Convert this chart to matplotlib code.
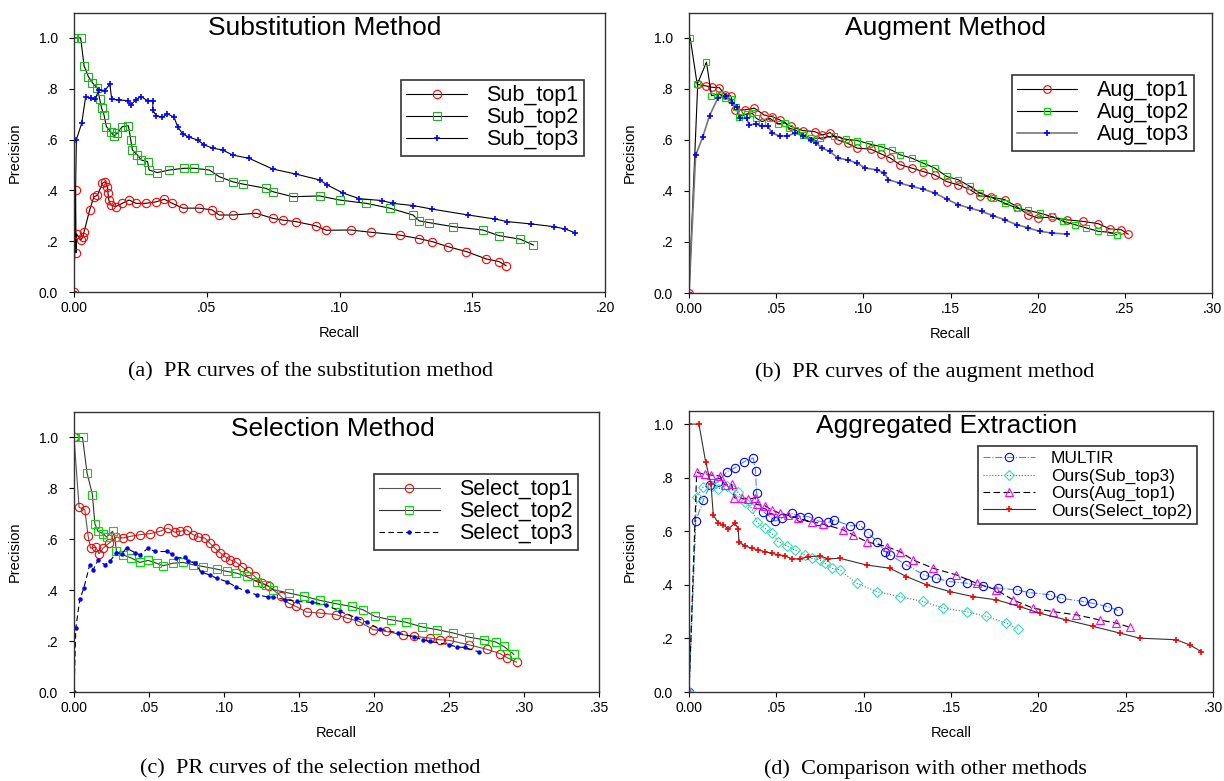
import matplotlib
matplotlib.use('Agg')
import matplotlib.pyplot as plt

plt.rcParams['font.family'] = ['Liberation Sans', 'DejaVu Sans']

# ---- tick labels ----
y_ticks = [0.0, 0.2, 0.4, 0.6, 0.8, 1.0]
y_labels = ['0.0', '.2', '.4', '.6', '.8', '1.0']
x_ticks_020 = [0.0, 0.05, 0.10, 0.15, 0.20]
x_labels_020 = ['0.00', '.05', '.10', '.15', '.20']
x_ticks_030 = [0.0, 0.05, 0.10, 0.15, 0.20, 0.25, 0.30]
x_labels_030 = ['0.00', '.05', '.10', '.15', '.20', '.25', '.30']
x_ticks_035 = [0.0, 0.05, 0.10, 0.15, 0.20, 0.25, 0.30, 0.35]
x_labels_035 = ['0.00', '.05', '.10', '.15', '.20', '.25', '.30', '.35']

# ---- (a) substitution method ----
sub1_r = [0.0, 0.0006, 0.0008, 0.0010, 0.0025, 0.0033, 0.0038, 0.0059, 0.0075, 0.0088, 0.0107,
          0.0117, 0.0126, 0.0128, 0.0131, 0.0138, 0.0157, 0.0182, 0.0208, 0.0233, 0.0270, 0.0310,
          0.0340, 0.0370, 0.0410, 0.0472, 0.0520, 0.0547, 0.0600, 0.0686, 0.0748, 0.0786, 0.0836,
          0.0912, 0.0950, 0.1043, 0.1119, 0.1226, 0.1300, 0.1350, 0.1410, 0.1478, 0.1553, 0.1600,
          0.1627]
sub1_p = [0.0, 0.400, 0.155, 0.228, 0.205, 0.215, 0.237, 0.323, 0.375, 0.380, 0.428,
          0.434, 0.415, 0.389, 0.362, 0.343, 0.336, 0.349, 0.362, 0.349, 0.349, 0.355,
          0.365, 0.349, 0.330, 0.330, 0.323, 0.303, 0.303, 0.310, 0.290, 0.283, 0.277,
          0.260, 0.243, 0.244, 0.235, 0.224, 0.210, 0.198, 0.178, 0.159, 0.130, 0.120,
          0.104]
sub2_r = [0.0, 0.0025, 0.0038, 0.0054, 0.0069, 0.0088, 0.0097, 0.0104, 0.0113, 0.0122, 0.0138,
          0.0150, 0.0163, 0.0182, 0.0205, 0.0214, 0.0220, 0.0239, 0.0252, 0.0277, 0.0283, 0.0314,
          0.0358, 0.0415, 0.0453, 0.0510, 0.0547, 0.0597, 0.0635, 0.0723, 0.0748, 0.0824, 0.0925,
          0.1000, 0.1100, 0.1189, 0.1277, 0.1300, 0.1337, 0.1428, 0.1540, 0.1600, 0.1680, 0.1730]
sub2_p = [1.0, 1.0, 0.890, 0.848, 0.824, 0.802, 0.758, 0.723, 0.697, 0.651, 0.631,
          0.614, 0.625, 0.651, 0.654, 0.598, 0.559, 0.539, 0.520, 0.513, 0.480, 0.470,
          0.480, 0.487, 0.487, 0.480, 0.454, 0.434, 0.425, 0.408, 0.395, 0.375, 0.378,
          0.362, 0.349, 0.330, 0.303, 0.280, 0.273, 0.257, 0.244, 0.222, 0.208, 0.185]
sub3_r = [0.0, 0.0009, 0.0029, 0.0044, 0.0063, 0.0079, 0.0094, 0.0117, 0.0135, 0.0142, 0.0170,
          0.0202, 0.0214, 0.0233, 0.0252, 0.0277, 0.0298, 0.0296, 0.0310, 0.0333, 0.0352, 0.0377,
          0.0390, 0.0409, 0.0434, 0.0466, 0.0490, 0.0522, 0.0560, 0.0597, 0.0660, 0.0748, 0.0836,
          0.0925, 0.0954, 0.1012, 0.1075, 0.1160, 0.1200, 0.1278, 0.1350, 0.1485, 0.1587, 0.1632,
          0.1720, 0.1808, 0.1850, 0.1887]
sub3_p = [0.0, 0.600, 0.664, 0.769, 0.762, 0.758, 0.795, 0.793, 0.819, 0.758, 0.756,
          0.753, 0.736, 0.756, 0.769, 0.753, 0.753, 0.717, 0.693, 0.688, 0.701, 0.688,
          0.651, 0.622, 0.609, 0.598, 0.579, 0.566, 0.559, 0.539, 0.526, 0.484, 0.464,
          0.441, 0.421, 0.390, 0.367, 0.360, 0.349, 0.340, 0.326, 0.303, 0.287, 0.277,
          0.268, 0.257, 0.248, 0.233]

# ---- (b) augment method ----
aug1_r = [0.0, 0.0050, 0.0096, 0.0130, 0.0174, 0.0207, 0.0240, 0.0263, 0.0319, 0.0375, 0.0430,
          0.0475, 0.0520, 0.0586, 0.0653, 0.0720, 0.0765, 0.0810, 0.0854, 0.0910, 0.0965, 0.1043,
          0.1100, 0.1155, 0.1210, 0.1277, 0.1344, 0.1410, 0.1478, 0.1545, 0.1612, 0.1667, 0.1734,
          0.1812, 0.1879, 0.1946, 0.2002, 0.2080, 0.2169, 0.2258, 0.2347, 0.2414, 0.2480, 0.2519]
aug1_p = [0.0, 0.818, 0.812, 0.807, 0.805, 0.777, 0.773, 0.718, 0.718, 0.725, 0.698,
          0.692, 0.679, 0.653, 0.637, 0.633, 0.620, 0.629, 0.600, 0.587, 0.568, 0.564,
          0.546, 0.529, 0.503, 0.490, 0.476, 0.463, 0.437, 0.424, 0.405, 0.381, 0.376,
          0.366, 0.339, 0.307, 0.294, 0.298, 0.287, 0.281, 0.272, 0.251, 0.248, 0.231]
aug2_r = [0.0007, 0.0047, 0.0100, 0.0129, 0.0174, 0.0207, 0.0240, 0.0270, 0.0285, 0.0330, 0.0363,
          0.0386, 0.0420, 0.0464, 0.0508, 0.0553, 0.0575, 0.0609, 0.0653, 0.0698, 0.0753, 0.0831,
          0.0898, 0.0965, 0.1032, 0.1100, 0.1166, 0.1210, 0.1277, 0.1344, 0.1410, 0.1478, 0.1545,
          0.1612, 0.1667, 0.1745, 0.1812, 0.1879, 0.1946, 0.2013, 0.2080, 0.2147, 0.2214, 0.2280,
          0.2347, 0.2414, 0.2454]
aug2_p = [1.0, 0.818, 0.905, 0.774, 0.781, 0.764, 0.760, 0.731, 0.692, 0.701, 0.705,
          0.685, 0.672, 0.685, 0.663, 0.668, 0.646, 0.640, 0.620, 0.607, 0.607, 0.616,
          0.603, 0.598, 0.585, 0.574, 0.559, 0.542, 0.529, 0.509, 0.490, 0.457, 0.444,
          0.418, 0.392, 0.372, 0.352, 0.333, 0.324, 0.313, 0.300, 0.281, 0.268, 0.255,
          0.242, 0.238, 0.228]
aug3_r = [0.0, 0.0038, 0.0078, 0.0118, 0.0167, 0.0212, 0.0245, 0.0274, 0.0292, 0.0330, 0.0346,
          0.0386, 0.0420, 0.0453, 0.0475, 0.0520, 0.0564, 0.0609, 0.0653, 0.0698, 0.0731, 0.0765,
          0.0809, 0.0854, 0.0910, 0.0965, 0.1010, 0.1077, 0.1121, 0.1144, 0.1210, 0.1277, 0.1344,
          0.1410, 0.1478, 0.1545, 0.1612, 0.1679, 0.1745, 0.1812, 0.1879, 0.1946, 0.2013, 0.2080,
          0.2169]
aug3_p = [0.0, 0.540, 0.610, 0.696, 0.766, 0.773, 0.744, 0.728, 0.685, 0.685, 0.659,
          0.663, 0.653, 0.655, 0.627, 0.616, 0.616, 0.627, 0.616, 0.600, 0.587, 0.568,
          0.555, 0.529, 0.522, 0.509, 0.490, 0.483, 0.470, 0.444, 0.431, 0.418, 0.407,
          0.392, 0.368, 0.346, 0.333, 0.320, 0.303, 0.287, 0.268, 0.255, 0.242, 0.235,
          0.231]

# ---- (c) selection method ----
sel1_r = [0.0, 0.0034, 0.0072, 0.0094, 0.0110, 0.0145, 0.0167, 0.0194, 0.0234, 0.0283, 0.0327,
          0.0372, 0.0439, 0.0505, 0.0572, 0.0627, 0.0672, 0.0705, 0.0750, 0.0794, 0.0827, 0.0872,
          0.0905, 0.0939, 0.0972, 0.1005, 0.1039, 0.1083, 0.1117, 0.1161, 0.1205, 0.1250, 0.1300,
          0.1380, 0.1430, 0.1480, 0.1550, 0.1640, 0.1745, 0.1820, 0.1900, 0.1994, 0.2080, 0.2190,
          0.2266, 0.2370, 0.2440, 0.2500, 0.2630, 0.2750, 0.2840, 0.2890, 0.2950]
sel1_p = [1.0, 0.726, 0.716, 0.614, 0.565, 0.569, 0.543, 0.565, 0.585, 0.609, 0.605,
          0.611, 0.618, 0.622, 0.631, 0.644, 0.627, 0.631, 0.637, 0.618, 0.609, 0.605,
          0.585, 0.565, 0.548, 0.532, 0.520, 0.509, 0.493, 0.474, 0.454, 0.428, 0.415,
          0.376, 0.349, 0.336, 0.314, 0.310, 0.304, 0.290, 0.277, 0.245, 0.238, 0.225,
          0.219, 0.212, 0.205, 0.203, 0.186, 0.168, 0.151, 0.134, 0.117]
sel2_r = [0.0, 0.0057, 0.0087, 0.0123, 0.0139, 0.0160, 0.0194, 0.0217, 0.0257, 0.0272, 0.0283,
          0.0327, 0.0383, 0.0439, 0.0494, 0.0550, 0.0594, 0.0660, 0.0727, 0.0794, 0.0860, 0.0950,
          0.1017, 0.1083, 0.1150, 0.1217, 0.1283, 0.1328, 0.1430, 0.1536, 0.1640, 0.1745, 0.1850,
          0.1927, 0.2005, 0.2110, 0.2213, 0.2318, 0.2420, 0.2526, 0.2630, 0.2734, 0.2810, 0.2865,
          0.2932]
sel2_p = [1.0, 1.0, 0.860, 0.775, 0.661, 0.631, 0.622, 0.609, 0.631, 0.609, 0.552,
          0.539, 0.526, 0.509, 0.517, 0.506, 0.496, 0.506, 0.509, 0.500, 0.493, 0.483,
          0.474, 0.467, 0.454, 0.434, 0.421, 0.402, 0.389, 0.376, 0.360, 0.347, 0.336,
          0.323, 0.297, 0.284, 0.274, 0.256, 0.245, 0.232, 0.216, 0.205, 0.197, 0.179,
          0.148]
sel3_r = [0.0, 0.0012, 0.0039, 0.0065, 0.0105, 0.0127, 0.0160, 0.0205, 0.0239, 0.0283, 0.0317,
          0.0350, 0.0405, 0.0439, 0.0494, 0.0539, 0.0617, 0.0650, 0.0679, 0.0739, 0.0761, 0.0805,
          0.0850, 0.0905, 0.0950, 0.1017, 0.1083, 0.1150, 0.1217, 0.1294, 0.1328, 0.1406, 0.1484,
          0.1589, 0.1680, 0.1770, 0.1880, 0.1950, 0.2040, 0.2160, 0.2266, 0.2327, 0.2370, 0.2500,
          0.2550, 0.2604, 0.2703]
sel3_p = [0.0, 0.251, 0.365, 0.407, 0.500, 0.480, 0.517, 0.500, 0.513, 0.548, 0.543,
          0.565, 0.548, 0.539, 0.565, 0.552, 0.552, 0.543, 0.526, 0.530, 0.513, 0.506,
          0.470, 0.460, 0.447, 0.434, 0.412, 0.395, 0.382, 0.373, 0.373, 0.363, 0.356,
          0.352, 0.343, 0.317, 0.292, 0.274, 0.247, 0.232, 0.216, 0.205, 0.199, 0.186,
          0.177, 0.175, 0.157]

# ---- (d) aggregated extraction ----
multir_r = [0.0, 0.0038, 0.0082, 0.0120, 0.0168, 0.0216, 0.0263, 0.0316, 0.0368, 0.0381, 0.0387,
            0.0425, 0.0463, 0.0492, 0.0530, 0.0588, 0.0635, 0.0683, 0.0740, 0.0797, 0.0833, 0.0922,
            0.0978, 0.1026, 0.1078, 0.1123, 0.1150, 0.1245, 0.1346, 0.1413, 0.1493, 0.1592, 0.1684,
            0.1770, 0.1875, 0.1950, 0.2065, 0.2127, 0.2256, 0.2306, 0.2395, 0.2458]
multir_p = [0.0, 0.638, 0.716, 0.772, 0.785, 0.822, 0.837, 0.860, 0.874, 0.825, 0.742,
            0.673, 0.655, 0.638, 0.648, 0.667, 0.655, 0.655, 0.638, 0.633, 0.642, 0.620,
            0.624, 0.593, 0.561, 0.524, 0.512, 0.474, 0.437, 0.425, 0.412, 0.406, 0.394,
            0.388, 0.381, 0.371, 0.363, 0.350, 0.338, 0.332, 0.319, 0.304]
ours_sub_r = [0.0, 0.0044, 0.0082, 0.0130, 0.0168, 0.0216, 0.0244, 0.0282, 0.0320, 0.0359, 0.0387,
              0.0435, 0.0473, 0.0511, 0.0559, 0.0606, 0.0664, 0.0702, 0.0750, 0.0778, 0.0816, 0.0864,
              0.0959, 0.1074, 0.1207, 0.1340, 0.1455, 0.1589, 0.1703, 0.1817, 0.1884]
ours_sub_p = [0.0, 0.729, 0.766, 0.770, 0.758, 0.770, 0.758, 0.745, 0.710, 0.686, 0.636,
              0.611, 0.593, 0.561, 0.546, 0.530, 0.512, 0.499, 0.493, 0.481, 0.462, 0.456,
              0.406, 0.375, 0.356, 0.338, 0.313, 0.300, 0.282, 0.257, 0.235]
ours_aug_r = [0.0, 0.0044, 0.0092, 0.0125, 0.0177, 0.0206, 0.0244, 0.0260, 0.0301, 0.0340, 0.0378,
              0.0387, 0.0435, 0.0473, 0.0521, 0.0568, 0.0625, 0.0702, 0.0768, 0.0883, 0.0940, 0.1017,
              0.1131, 0.1207, 0.1283, 0.1398, 0.1531, 0.1646, 0.1760, 0.1855, 0.1970, 0.2084, 0.2218,
              0.2351, 0.2447, 0.2523]
ours_aug_p = [0.0, 0.820, 0.812, 0.810, 0.807, 0.773, 0.775, 0.725, 0.723, 0.720, 0.725,
              0.700, 0.695, 0.680, 0.667, 0.661, 0.648, 0.636, 0.627, 0.605, 0.586, 0.561,
              0.543, 0.524, 0.493, 0.462, 0.437, 0.406, 0.381, 0.344, 0.313, 0.300, 0.288,
              0.269, 0.257, 0.242]
ours_sel_r = [0.0, 0.0057, 0.0095, 0.0126, 0.0139, 0.0168, 0.0196, 0.0225, 0.0263, 0.0282, 0.0286,
              0.0320, 0.0359, 0.0397, 0.0435, 0.0473, 0.0511, 0.0549, 0.0588, 0.0635, 0.0683, 0.0750,
              0.0797, 0.0864, 0.1017, 0.1150, 0.1245, 0.1360, 0.1493, 0.1627, 0.1760, 0.1894, 0.2008,
              0.2161, 0.2313, 0.2466, 0.2580, 0.2790, 0.2866, 0.2933]
ours_sel_p = [1.0, 1.0, 0.860, 0.775, 0.661, 0.630, 0.624, 0.609, 0.630, 0.609, 0.559,
              0.546, 0.537, 0.530, 0.524, 0.518, 0.512, 0.509, 0.497, 0.497, 0.505, 0.508,
              0.497, 0.499, 0.474, 0.462, 0.431, 0.400, 0.375, 0.356, 0.344, 0.319, 0.294,
              0.269, 0.245, 0.220, 0.201, 0.195, 0.176, 0.151]

W, H = 1224, 781


def axes_px(left, top, right, bottom):
    # pixel box -> figure fraction
    return [left / W, 1 - bottom / H, (right - left) / W, (bottom - top) / H]


def style(ax, xmax, ymax, xticks, xlabels, title, tx, ty):
    ax.set_xlim(0, xmax)
    ax.set_ylim(0, ymax)
    ax.set_xticks(xticks)
    ax.set_xticklabels(xlabels)
    ax.set_yticks(y_ticks)
    ax.set_yticklabels(y_labels)
    ax.tick_params(direction='out', length=3.5, width=0.8, labelsize=10)
    ax.tick_params(axis='x', pad=3)
    ax.tick_params(axis='y', pad=8)
    for s in ax.spines.values():
        s.set_color('#333333')
        s.set_linewidth(1.0)
    ax.set_xlabel('Recall', fontsize=10.5, labelpad=8)
    ax.set_ylabel('Precision', fontsize=10.5, labelpad=12)
    ax.text(tx, ty, title, transform=ax.transAxes, ha='center', va='center', fontsize=19)


fig = plt.figure(figsize=(12.24, 7.81), dpi=100)
ax_a = fig.add_axes(axes_px(74, 13, 605, 292))
ax_b = fig.add_axes(axes_px(689, 13, 1212, 293))
ax_c = fig.add_axes(axes_px(74, 412, 599, 692))
ax_d = fig.add_axes(axes_px(689, 411, 1213, 692))

leg_kw = dict(fontsize=15.5, numpoints=1, handlelength=2.8, handletextpad=0.9,
              borderpad=0.25, labelspacing=0.05, borderaxespad=0, fancybox=False,
              edgecolor='#333333', framealpha=1, loc='upper right')

# (a)
ax_a.plot(sub1_r, sub1_p, color='black', lw=0.8, marker='o', ms=6, mfc='none', mec='red', mew=0.8, label='Sub_top1')
ax_a.plot(sub2_r, sub2_p, color='black', lw=0.8, marker='s', ms=6, mfc='none', mec='#22b422', mew=0.8, label='Sub_top2')
ax_a.plot(sub3_r, sub3_p, color='black', lw=0.8, marker='+', ms=4.5, mec='blue', mew=1.2, label='Sub_top3')
style(ax_a, 0.20, 1.098, x_ticks_020, x_labels_020, 'Substitution Method', 0.473, 0.945)
leg = ax_a.legend(bbox_to_anchor=(0.96, 0.76), **leg_kw)
leg.get_frame().set_linewidth(1.2)

# (b)
ax_b.plot(aug1_r, aug1_p, color='black', lw=0.8, marker='o', ms=5.5, mfc='none', mec='red', mew=0.8, label='Aug_top1')
ax_b.plot(aug2_r, aug2_p, color='black', lw=0.8, marker='s', ms=3.8, mfc='none', mec='#00dd00', mew=0.8, label='Aug_top2')
ax_b.plot(aug3_r, aug3_p, color='#777777', lw=1.2, marker='+', ms=4.5, mec='blue', mew=1.2, label='Aug_top3')
style(ax_b, 0.30, 1.098, x_ticks_030, x_labels_030, 'Augment Method', 0.491, 0.945)
leg = ax_b.legend(bbox_to_anchor=(0.966, 0.779), **leg_kw)
leg.get_frame().set_linewidth(1.2)

# (c)
ax_c.plot(sel1_r, sel1_p, color='#555555', lw=0.8, marker='o', ms=6, mfc='none', mec='red', mew=0.8, label='Select_top1')
ax_c.plot(sel2_r, sel2_p, color='#333333', lw=0.8, marker='s', ms=6, mfc='none', mec='#00e000', mew=0.8, label='Select_top2')
ax_c.plot(sel3_r, sel3_p, color='black', lw=0.8, ls=(0, (5, 3)), marker='o', ms=2.2, mfc='blue', mec='blue', label='Select_top3')
style(ax_c, 0.35, 1.10, x_ticks_035, x_labels_035, 'Selection Method', 0.493, 0.938)
leg = ax_c.legend(bbox_to_anchor=(0.96, 0.779), **leg_kw)
leg.get_frame().set_linewidth(1.2)

# (d)
ax_d.plot(multir_r, multir_p, color='#3a8ff0', lw=0.8, ls='-.', marker='o', ms=6, mfc='none', mec='blue', mew=0.8, label='MULTIR')
ax_d.plot(ours_sub_r, ours_sub_p, color='#666666', lw=0.8, ls=':', marker='D', ms=5, mfc='none', mec='#30e0b8', mew=0.8, label='Ours(Sub_top3)')
ax_d.plot(ours_aug_r, ours_aug_p, color='black', lw=0.8, ls=(0, (6, 3)), marker='^', ms=6, mfc='none', mec='#ff00ff', mew=0.8, label='Ours(Aug_top1)')
ax_d.plot(ours_sel_r, ours_sel_p, color='#333333', lw=0.8, marker='+', ms=4.5, mec='red', mew=1.2, label='Ours(Select_top2)')
style(ax_d, 0.30, 1.049, x_ticks_030, x_labels_030, 'Aggregated Extraction', 0.491, 0.946)
leg_d = dict(leg_kw, fontsize=12.5, labelspacing=0.12, handlelength=3.0, borderpad=0.3)
leg = ax_d.legend(bbox_to_anchor=(0.97, 0.875), **leg_d)
leg.get_frame().set_linewidth(1.2)

# sub-figure captions
cap_kw = dict(ha='center', va='center', fontsize=16, family=['Liberation Serif', 'DejaVu Serif'])
fig.text(311 / W, 1 - 372 / H, '(a)  PR curves of the substitution method', **cap_kw)
fig.text(925 / W, 1 - 372 / H, '(b)  PR curves of the augment method', **cap_kw)
fig.text(310 / W, 1 - 769 / H, '(c)  PR curves of the selection method', **cap_kw)
fig.text(925 / W, 1 - 769 / H, '(d)  Comparison with other methods', **cap_kw)

fig.savefig('out.png', dpi=100)
plt.close(fig)
